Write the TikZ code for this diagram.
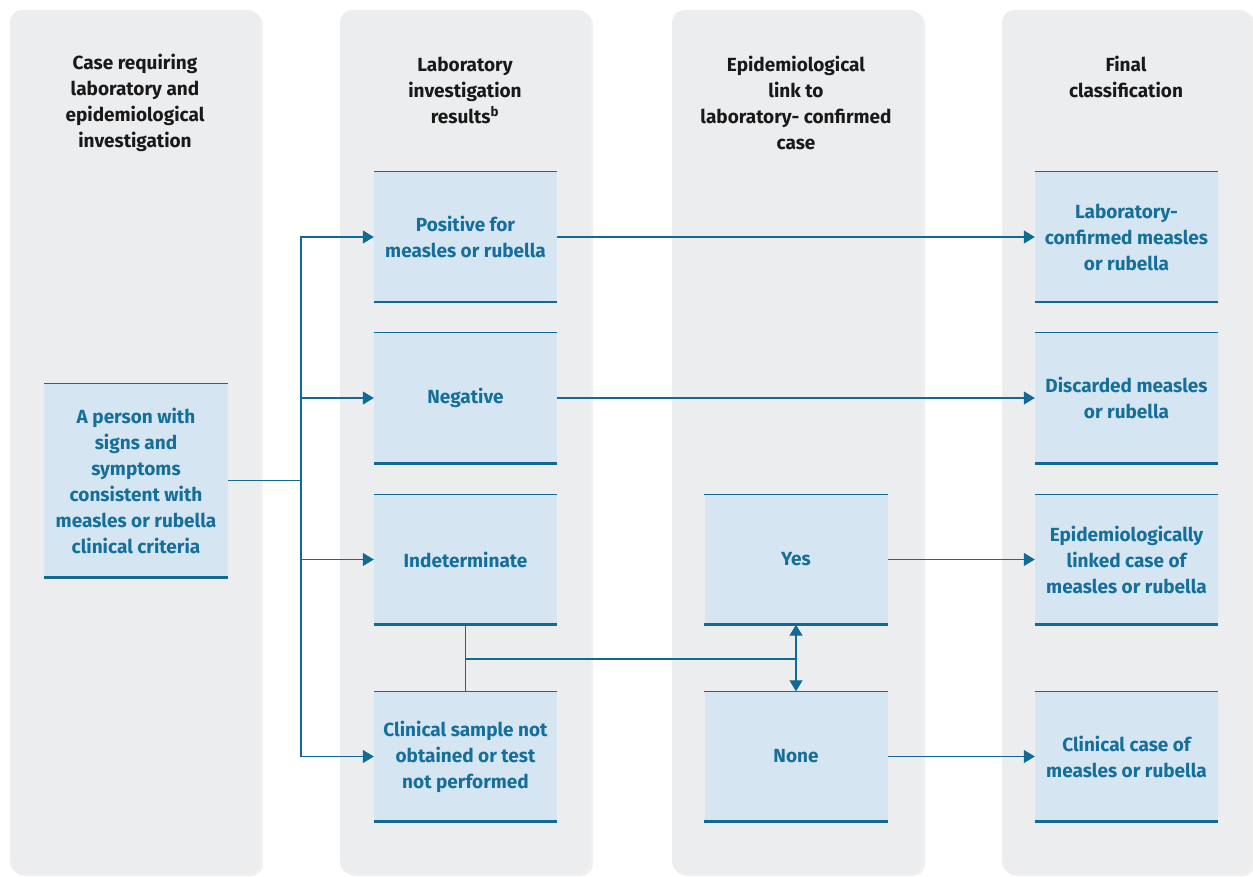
\documentclass[tikz,border=0pt]{standalone}
\usepackage{fontspec}
\setmainfont{Fira Sans}
\usetikzlibrary{arrows.meta,shadows}
\definecolor{colgrey}{HTML}{ECEDEF}
\definecolor{boxfill}{HTML}{D5E6F2}
\definecolor{boxline}{HTML}{0F6B96}
\definecolor{boxtext}{HTML}{156F9A}
\tikzset{
  column/.style={fill=colgrey,rounded corners=12pt,drop shadow={shadow xshift=3pt,shadow yshift=-2pt,opacity=.12}},
  head/.style={align=center,font=\fontsize{19}{26}\selectfont\bfseries,text=black!90},
  result/.style={fill=boxfill,minimum width=183pt,minimum height=130pt,inner sep=0pt,
    align=center,text=boxtext,font=\fontsize{19}{26}\selectfont\bfseries},
  link/.style={boxline,line width=1.1pt},
  flow/.style={link,-{Triangle[length=11pt,width=13pt]}}
}
\begin{document}
\begin{tikzpicture}[x=1pt,y=-1pt]
\useasboundingbox (0,0) rectangle (1253,877);
\foreach \x in {10,340,672,1002}
  \path[column] (\x,10) rectangle ({\x+250},874);
\node[head] at (135,103) {Case requiring\\laboratory and\\epidemiological\\investigation};
\node[head] at (465,90) {Laboratory\\investigation\\results\textsuperscript{b}};
\node[head] at (796,103) {Epidemiological\\link to\\laboratory- confirmed\\case};
\node[head] at (1126,77) {Final\\classification};
\node[result,minimum width=184pt,minimum height=193pt] (case) at (136,480.5)
  {A person with\\signs and\\symptoms\\consistent with\\measles or rubella\\clinical criteria};
\node[result] (pos) at (465.5,237) {Positive for\\measles or rubella};
\node[result] (neg) at (465.5,398) {Negative};
\node[result] (indet) at (465.5,559.5) {Indeterminate};
\node[result] (nosample) at (465.5,756.5) {Clinical sample not\\obtained or test\\not performed};
\node[result] (yes) at (796,559.5) {Yes};
\node[result] (none) at (796,756.5) {None};
\node[result] (labconf) at (1126.5,237) {Laboratory-\\confirmed measles\\or rubella};
\node[result] (discard) at (1126.5,398) {Discarded measles\\or rubella};
\node[result] (epilink) at (1126.5,559.5) {Epidemiologically\\linked case of\\measles or rubella};
\node[result] (clinical) at (1126.5,756.5) {Clinical case of\\measles or rubella};
\foreach \n in {case,pos,neg,indet,nosample,yes,none,labconf,discard,epilink,clinical} {
  \draw[boxline,line width=.8pt] (\n.north west) -- (\n.north east);
  \draw[boxline,line width=2.6pt] (\n.south west) -- (\n.south east);
}
\coordinate (split) at (301,480.5);
\coordinate (join) at (796,659);
\draw[link] (case.east) -- (split);
\foreach \n in {pos,neg,indet,nosample}
  \draw[flow] (split) |- (\n.west);
\draw[flow] (pos) -- (labconf);
\draw[flow] (neg) -- (discard);
\draw[flow] (yes) -- (epilink);
\draw[flow] (none) -- (clinical);
\draw[link] (indet.south) -- (nosample.north);
\draw[link] (indet.south |- join) -- (join);
\draw[link,{Triangle[length=11pt,width=13pt]}-{Triangle[length=11pt,width=13pt]}] (yes.south) -- (none.north);
\end{tikzpicture}
\end{document}
